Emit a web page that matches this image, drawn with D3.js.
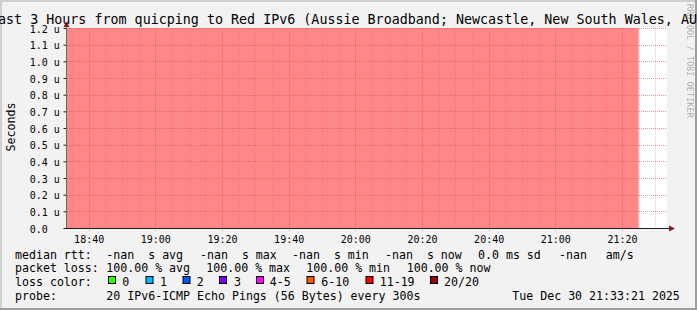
<!DOCTYPE html>
<html>
<head>
<meta charset="UTF-8">
<title>quicping to Red IPv6</title>
<script src="https://cdn.jsdelivr.net/npm/d3@7"></script>
<style>
  body { margin: 0; background: #f2f2f2; }
  svg { display: block; }
  text { font-family: "DejaVu Sans Mono", monospace; fill: #000; }
</style>
</head>
<body>
<div id="chart"></div>
<script>
// data
var titleText = "Last 3 Hours from quicping to Red IPv6 (Aussie Broadband; Newcastle, New South Wales, AU)";
var day = "2025-12-30";
var timeStart = "18:33:21", timeEnd = "21:33:21";
var sampleTimes = ["18:35", "18:40", "18:45", "18:50", "18:55", "19:00", "19:05", "19:10", "19:15",
    "19:20", "19:25", "19:30", "19:35", "19:40", "19:45", "19:50", "19:55", "20:00", "20:05",
    "20:10", "20:15", "20:20", "20:25", "20:30", "20:35", "20:40", "20:45", "20:50", "20:55",
    "21:00", "21:05", "21:10", "21:15", "21:20", "21:25"];
var lossPct = [100, 100, 100, 100, 100, 100, 100, 100, 100, 100, 100, 100, 100, 100, 100, 100, 100, 100,
    100, 100, 100, 100, 100, 100, 100, 100, 100, 100, 100, 100, 100, 100, 100, 100, 100];
var xTickLabels = ["18:40", "19:00", "19:20", "19:40", "20:00", "20:20", "20:40", "21:00", "21:20"];
var yTickValues = [0, 0.1, 0.2, 0.3, 0.4, 0.5, 0.6, 0.7, 0.8, 0.9, 1.0, 1.1, 1.2]; // microseconds
var yLabel = "Seconds";

var statNames = ["avg", "max", "min", "now"];
var medianRtt = ["-nan", "-nan", "-nan", "-nan"];
var packetLoss = ["100.00", "100.00", "100.00", "100.00"];
var rttSd = "0.0", amPerS = "-nan";
var lossLabels = ["0", "1", "2", "3", "4-5", "6-10", "11-19", "20/20"];
var lossColors = ["#26ff00", "#00b8ff", "#0059ff", "#7e00ff", "#ff00ff", "#ff5500", "#ff0000", "#a10000"];
var probeText = "20 IPv6-ICMP Echo Pings (56 Bytes) every 300s";
var stampText = "Tue Dec 30 21:33:21 2025";
var watermark = "RRDTOOL / TOBI OETIKER";

// layout
var W = 697, H = 310;
var plot = {left: 66.5, right: 666.5, top: 28, bottom: 228};
var monoTitle = "13.35px", monoLegend = "11.6px", monoAxis = "10px";

var parseT = d3.timeParse("%Y-%m-%d %H:%M:%S");
var parseHM = d3.timeParse("%Y-%m-%d %H:%M");

var svg = d3.select("#chart").append("svg")
    .attr("width", W)
    .attr("height", H);

// background + 3d frame
svg.append("rect").attr("width", W).attr("height", H).attr("fill", "#f2f2f2");
svg.append("path").attr("d", "M0,0H" + W + "V2H2V" + H + "H0Z").attr("fill", "#cfcfcf");
svg.append("path").attr("d", "M" + W + ",0V" + H + "H0V" + (H - 2) + "H" + (W - 2) + "V0Z").attr("fill", "#9e9e9e");

// canvas
svg.append("rect")
    .attr("x", plot.left).attr("y", plot.top)
    .attr("width", plot.right - plot.left).attr("height", plot.bottom - plot.top)
    .attr("fill", "#ffffff");

var x = d3.scaleTime()
    .domain([parseT(day + " " + timeStart), parseT(day + " " + timeEnd)])
    .range([plot.left, plot.right]);
var y = d3.scaleLinear().domain([0, 1.2]).range([plot.bottom, plot.top]);
var yLoss = d3.scaleLinear().domain([0, 100]).range([plot.bottom, plot.top]);

svg.append("clipPath").attr("id", "clip").append("rect")
    .attr("x", plot.left).attr("y", plot.top)
    .attr("width", plot.right - plot.left).attr("height", plot.bottom - plot.top);

// loss band (step area, each sample covers the 5 minutes before it)
var samples = sampleTimes.map(function(t, i) {
    return {t: parseHM(day + " " + t), v: lossPct[i]};
});
samples.unshift({t: d3.timeMinute.offset(samples[0].t, -5), v: samples[0].v});

var area = d3.area()
    .curve(d3.curveStepBefore)
    .x(function(d) { return x(d.t); })
    .y0(plot.bottom)
    .y1(function(d) { return yLoss(d.v); });

svg.append("path")
    .datum(samples)
    .attr("clip-path", "url(#clip)")
    .attr("fill", "#ff8787")
    .attr("d", area);

// grid
var grid = svg.append("g").attr("shape-rendering", "crispEdges");
var majorTimes = xTickLabels.map(function(s) { return parseHM(day + " " + s); });
var minorTimes = d3.timeMinute.every(5).range(x.domain()[0], x.domain()[1])
    .filter(function(t) { return t.getMinutes() % 20 != 0; });

grid.selectAll(".vminor").data(minorTimes).enter().append("line")
    .attr("x1", function(d) { return Math.round(x(d)) + 0.5; })
    .attr("x2", function(d) { return Math.round(x(d)) + 0.5; })
    .attr("y1", plot.top).attr("y2", plot.bottom + 2)
    .attr("stroke", "rgba(143,143,143,0.4)")
    .attr("stroke-dasharray", "1,1");

grid.selectAll(".vmajor").data(majorTimes).enter().append("line")
    .attr("x1", function(d) { return Math.round(x(d)) + 0.5; })
    .attr("x2", function(d) { return Math.round(x(d)) + 0.5; })
    .attr("y1", plot.top).attr("y2", plot.bottom + 3)
    .attr("stroke", "rgba(222,79,79,0.6)")
    .attr("stroke-dasharray", "1,1");

grid.selectAll(".hmajor").data(yTickValues.slice(1)).enter().append("line")
    .attr("x1", plot.left).attr("x2", plot.right)
    .attr("y1", function(d) { return Math.round(y(d)) + 0.5; })
    .attr("y2", function(d) { return Math.round(y(d)) + 0.5; })
    .attr("stroke", "rgba(222,79,79,0.6)")
    .attr("stroke-dasharray", "1,1");

// axes
var xAxis = d3.axisBottom(x)
    .tickValues(majorTimes)
    .tickFormat(d3.timeFormat("%H:%M"))
    .tickSize(0)
    .tickPadding(8);
var gx = svg.append("g")
    .attr("transform", "translate(0," + plot.bottom + ")")
    .call(xAxis);
gx.select(".domain").remove();
gx.selectAll("text").style("font-size", monoAxis).attr("fill", "#000");

var yAxis = d3.axisLeft(y)
    .tickValues(yTickValues)
    .tickFormat(function(d) { return d == 0 ? "0.0" : d3.format(".1f")(d) + " u"; })
    .tickSize(3)
    .tickPadding(0);
var gy = svg.append("g")
    .attr("transform", "translate(" + plot.left + ",0)")
    .call(yAxis);
gy.select(".domain").remove();
gy.selectAll(".tick line").attr("stroke", "#1f1f1f");
gy.selectAll("text")
    .attr("text-anchor", "start")
    .attr("x", 29.7 - plot.left)
    .attr("dy", "0.42em")
    .style("font-size", monoAxis)
    .attr("fill", "#000");

svg.append("line")
    .attr("x1", 66.5).attr("x2", 66.5).attr("y1", plot.bottom).attr("y2", 24)
    .attr("stroke", "#6a6a6a");
svg.append("line")
    .attr("x1", 66).attr("x2", 670).attr("y1", plot.bottom + 0.5).attr("y2", plot.bottom + 0.5)
    .attr("stroke", "#1f1f1f");
svg.append("path").attr("d", "M66.5,21.5L69.5,27L63.5,27Z").attr("fill", "#801f1f");
svg.append("path").attr("d", "M675,228.5L669,225.5L669,231.5Z").attr("fill", "#801f1f");

// title, y label, watermark
svg.append("text")
    .attr("x", W / 2 - 1).attr("y", 23.5)
    .attr("text-anchor", "middle")
    .style("font-size", monoTitle)
    .text(titleText);

svg.append("text")
    .attr("transform", "translate(15," + 127 + ") rotate(-90)")
    .attr("text-anchor", "middle")
    .style("font-size", monoLegend)
    .text(yLabel);

svg.append("text")
    .attr("transform", "translate(687,4) rotate(90)")
    .style("font-size", "8.6px")
    .style("fill", "rgba(0,0,0,0.3)")
    .text(watermark);

// legend
var rows = [258.5, 272.3, 286.1, 299.9];
var leg = svg.append("g").style("font-size", monoLegend).attr("xml:space", "preserve");
function put(x0, row, s) {
    leg.append("text").attr("x", x0).attr("y", rows[row]).style("white-space", "pre").text(s);
}

put(15, 0, "median rtt:");
var rttX = [106.3, 200, 292, 385];
medianRtt.forEach(function(v, i) { put(rttX[i], 0, v + "  s " + statNames[i]); });
put(478, 0, rttSd + " ms sd");
put(559, 0, amPerS);
put(605.7, 0, "am/s");

put(15, 1, "packet loss:");
var lossX = [106.3, 206.3, 306.3, 406.7];
packetLoss.forEach(function(v, i) { put(lossX[i], 1, v + " % " + statNames[i]); });

put(15, 2, "loss color:");
var boxX = [108, 145.5, 182.5, 219, 256, 306.5, 365.5, 430];
var labX = [122.3, 160, 196.7, 234, 269.7, 321.3, 379.7, 444];
lossLabels.forEach(function(l, i) {
    leg.append("rect")
        .attr("x", boxX[i] + 0.5).attr("y", 276.5)
        .attr("width", 7).attr("height", 7)
        .attr("fill", lossColors[i])
        .attr("stroke", "#000");
    put(labX[i], 2, l);
});

put(15, 3, "probe:");
put(106.3, 3, probeText);
put(512.3, 3, stampText);
</script>
</body>
</html>
